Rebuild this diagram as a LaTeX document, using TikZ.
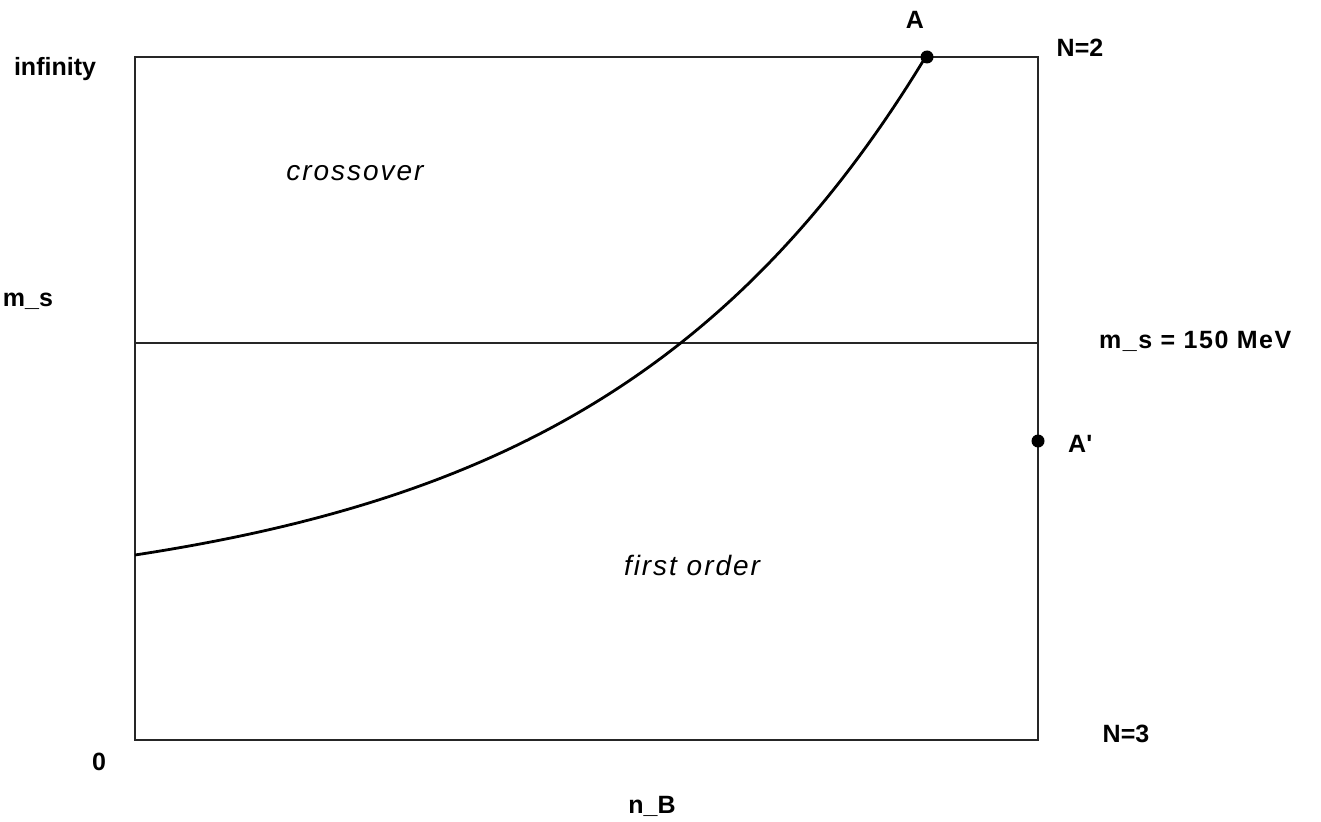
\documentclass[tikz,border=0pt]{standalone}
\usepackage{fontspec}
\setmainfont{Liberation Sans}
\newfontfamily\labfont{Liberation Sans}
\newfontfamily\widefont[LetterSpace=6]{Liberation Sans}
\newfontfamily\regfont[LetterSpace=7]{Liberation Sans}
\begin{document}
\begin{tikzpicture}[x=1pt,y=-1pt,
  lab/.style={font=\labfont\bfseries\fontsize{25}{27}\selectfont, inner sep=0pt, anchor=base},
  widelab/.style={font=\widefont\bfseries\fontsize{25}{27}\selectfont, inner sep=0pt, anchor=base west},
  reg/.style={font=\regfont\itshape\fontsize{28}{30}\selectfont, inner sep=0pt, anchor=base},
  frame/.style={draw=black!85, line width=1.7pt},
  curve/.style={draw=black, line width=2.8pt, line join=round},
  dot/.style={circle, fill=black, inner sep=0pt, minimum size=13pt}]
\useasboundingbox (0,0) rectangle (1321,821);
\draw[frame] (135,57) rectangle (1038,740);
\coordinate (HL) at (135,343);
\coordinate (HR) at (1038,343);
\draw[frame] (HL) -- (HR);
\draw[curve] plot[domain=0:792, samples=120, variable=\t] ({135+\t},{555-51*(exp(0.003*\t)-1)});
\node[dot] (A) at (927,57) {};
\node[dot] (Ap) at (1038,441) {};
\node[lab] (lA) at (915,29) {A};
\node[lab] (lN2) at (1080,57) {N=2};
\node[lab] (linf) at (55,76) {infinity};
\node[lab] (lms) at (28,306) {m\_s};
\node[widelab] (lms150) at (1099,348) {m\_s = 150 MeV};
\node[lab, anchor=base west] (lAp) at (1068,452) {A'};
\node[lab] (lN3) at (1126,742) {N=3};
\node[lab] (l0) at (99,770) {0};
\node[lab] (lnB) at (652,813) {n\_B};
\node[reg] (lcross) at (355,180) {crossover};
\node[reg] (lfirst) at (692,575) {first order};
\end{tikzpicture}
\end{document}
